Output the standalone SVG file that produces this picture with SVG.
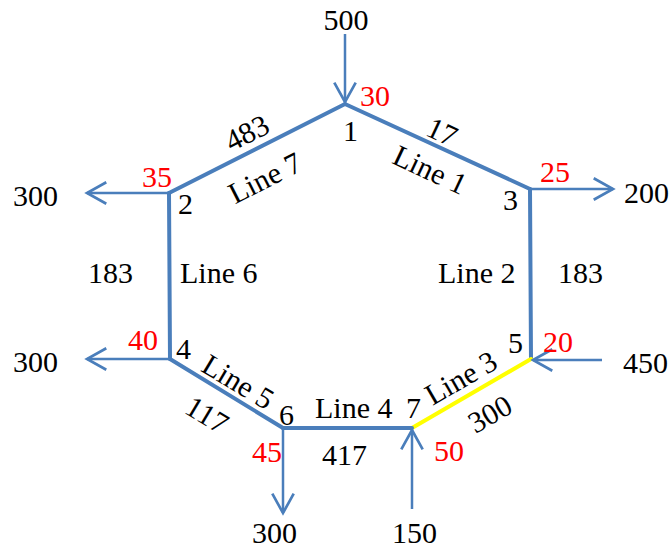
<svg xmlns="http://www.w3.org/2000/svg" width="672" height="550" viewBox="0 0 672 550">
<style>
text{font-family:"Liberation Serif","Times New Roman",serif;font-size:30px;fill:#000}
.r{fill:#FF0000}
.m{text-anchor:middle}
.edge{stroke:#4A7EBB;stroke-width:4;fill:none;stroke-linecap:round;stroke-linejoin:round}
.y{stroke:#FFFF00}
.arr{stroke:#4A7EBB;stroke-width:2.5;fill:none;marker-end:url(#ah)}
</style>
<defs>
<marker id="ah" markerUnits="userSpaceOnUse" orient="auto" refX="0" refY="0" markerWidth="30" markerHeight="30" viewBox="-22 -14 26 28" overflow="visible">
<path d="M-18,-10 L0,0 L-18,10" fill="none" stroke="#4A7EBB" stroke-width="2.5"/>
</marker>
</defs>
<g id="connectors">
<line class="edge" x1="345" y1="104" x2="530" y2="189"/>
<line class="edge" x1="530" y1="189" x2="531" y2="359"/>
<line class="edge y" x1="531" y1="359" x2="412" y2="428"/>
<line class="edge" x1="412" y1="428" x2="283" y2="428"/>
<line class="edge" x1="283" y1="428" x2="170" y2="359"/>
<line class="edge" x1="170" y1="359" x2="169" y2="193"/>
<line class="edge" x1="169" y1="193" x2="345" y2="104"/>
<line class="arr" x1="345" y1="34" x2="345" y2="102"/>
<line class="arr" x1="169" y1="193" x2="87" y2="193"/>
<line class="arr" x1="530" y1="189" x2="613" y2="189"/>
<line class="arr" x1="170" y1="359" x2="87" y2="359"/>
<line class="arr" x1="602" y1="360" x2="533" y2="360"/>
<line class="arr" x1="283" y1="428" x2="283" y2="513"/>
<line class="arr" x1="412" y1="509" x2="412" y2="430"/>
</g>
<g id="node1"><text x="343" y="141">1</text><text class="r" x="360" y="106">30</text><text class="m" x="346" y="30">500</text></g>
<g id="node2"><text x="178" y="214">2</text><text class="r" x="142" y="187">35</text><text x="13" y="206">300</text></g>
<g id="node3"><text x="503" y="210">3</text><text class="r" x="540" y="182">25</text><text x="624" y="203">200</text></g>
<g id="node4"><text x="176" y="359">4</text><text class="r" x="128" y="350">40</text><text x="13" y="372">300</text></g>
<g id="node5"><text x="508" y="353">5</text><text class="r" x="543" y="352">20</text><text x="623" y="373">450</text></g>
<g id="node6"><text x="279" y="425">6</text><text class="r" x="252" y="462">45</text><text x="252" y="543">300</text></g>
<g id="node7"><text x="406" y="418">7</text><text class="r" x="434" y="461">50</text><text x="392" y="543">150</text></g>
<g id="labels">
<text class="m" transform="translate(247,133) rotate(-27)" y="10">483</text>
<text class="m" transform="translate(265,178) rotate(-27)" y="10">Line 7</text>
<text class="m" transform="translate(442,132) rotate(25)" y="10">17</text>
<text class="m" transform="translate(430,170) rotate(25)" y="10">Line 1</text>
<text x="438" y="283">Line 2</text>
<text x="558" y="283">183</text>
<text x="180" y="283">Line 6</text>
<text x="88" y="283">183</text>
<text class="m" transform="translate(238,382) rotate(31)" y="10">Line 5</text>
<text class="m" transform="translate(207,415) rotate(31)" y="10">117</text>
<text x="315" y="418">Line 4</text>
<text x="322" y="465">417</text>
<text class="m" transform="translate(461,378) rotate(-30)" y="10">Line 3</text>
<text class="m" transform="translate(490,414) rotate(-30)" y="10">300</text>
</g>
</svg>
